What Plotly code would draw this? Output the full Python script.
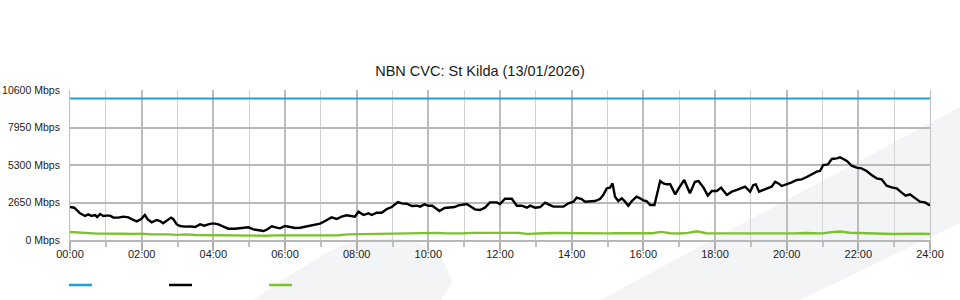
import plotly.graph_objects as go

title_text = "NBN CVC: St Kilda (13/01/2026)"

# x axis (hours) and tick labels
x_tick_vals = [0, 2, 4, 6, 8, 10, 12, 14, 16, 18, 20, 22, 24]
x_tick_text = ["00:00", "02:00", "04:00", "06:00", "08:00", "10:00", "12:00",
               "14:00", "16:00", "18:00", "20:00", "22:00", "24:00"]
y_tick_vals = [0, 2650, 5300, 7950, 10600]
y_tick_text = ["0 Mbps", "2650 Mbps", "5300 Mbps", "7950 Mbps", "10600 Mbps"]

# capacity (blue)
cap_t = [0, 24]
cap_v = [10000, 10000]

# traffic (black)
use_t = [0.00, 0.12, 0.28, 0.42, 0.51, 0.60, 0.70, 0.76, 0.84, 0.93, 1.02, 1.12, 1.21, 1.35, 1.49,
         1.63, 1.77, 1.86, 1.98, 2.09, 2.17, 2.28, 2.42, 2.51, 2.60, 2.70, 2.82, 2.88, 2.98, 3.07,
         3.21, 3.35, 3.49, 3.63, 3.75, 3.86, 3.95, 4.05, 4.14, 4.28, 4.42, 4.60, 4.79, 4.98, 5.12,
         5.26, 5.40, 5.49, 5.63, 5.77, 5.86, 6.00, 6.14, 6.28, 6.42, 6.56, 6.70, 6.84, 6.98, 7.12,
         7.30, 7.44, 7.58, 7.72, 7.86, 7.95, 8.05, 8.19, 8.33, 8.42, 8.56, 8.70, 8.84, 8.98, 9.15,
         9.26, 9.40, 9.54, 9.68, 9.77, 9.89, 10.00, 10.11, 10.19, 10.31, 10.45, 10.59, 10.73, 10.84, 10.98,
         11.07, 11.16, 11.30, 11.44, 11.58, 11.72, 11.91, 12.00, 12.14, 12.33, 12.47, 12.61, 12.75, 12.84, 12.98,
         13.12, 13.26, 13.35, 13.49, 13.63, 13.77, 13.91, 14.05, 14.14, 14.28, 14.37, 14.51, 14.65, 14.79, 14.88,
         14.98, 15.07, 15.14, 15.21, 15.30, 15.40, 15.49, 15.58, 15.68, 15.81, 15.91, 16.00, 16.09, 16.19, 16.31,
         16.47, 16.56, 16.65, 16.75, 16.89, 17.00, 17.14, 17.30, 17.44, 17.54, 17.68, 17.80, 17.91, 18.05, 18.17,
         18.33, 18.47, 18.61, 18.75, 18.84, 18.98, 19.07, 19.14, 19.23, 19.35, 19.49, 19.58, 19.68, 19.77, 19.86,
         20.00, 20.14, 20.28, 20.42, 20.56, 20.70, 20.84, 20.93, 21.02, 21.15, 21.26, 21.40, 21.49, 21.58, 21.68,
         21.81, 21.95, 22.09, 22.23, 22.37, 22.51, 22.65, 22.79, 22.93, 23.07, 23.21, 23.32, 23.44, 23.58, 23.72,
         23.86, 24.00]
use_v = [2330, 2280, 1885, 1700, 1815, 1700, 1765, 1625, 1835, 1700, 1720, 1720, 1580, 1580, 1650,
         1600, 1415, 1320, 1460, 1765, 1460, 1250, 1415, 1345, 1180, 1345, 1580, 1485, 1105, 990,
         945, 965, 920, 1105, 1015, 1105, 1155, 1155, 1105, 945, 800, 800, 870, 895, 755,
         705, 635, 730, 965, 870, 825, 990, 895, 850, 870, 945, 1035, 1060, 1155, 1345,
         1600, 1485, 1650, 1745, 1700, 1650, 2000, 1765, 1885, 1765, 1930, 1930, 2190, 2330, 2685,
         2590, 2565, 2400, 2425, 2355, 2520, 2425, 2425, 2285, 2050, 2260, 2285, 2330, 2450, 2520,
         2545, 2400, 2165, 2120, 2285, 2660, 2660, 2545, 2920, 2920, 2425, 2425, 2285, 2425, 2285,
         2330, 2640, 2520, 2355, 2355, 2355, 2590, 2710, 2990, 2895, 2710, 2710, 2755, 2895, 3180,
         3650, 3700, 4000, 3060, 2755, 2945, 2710, 2425, 2755, 3060, 2945, 2800, 2755, 2475, 2475,
         4170, 4000, 3935, 3935, 3225, 3700, 4240, 3300, 4120, 4170, 3700, 3135, 3465, 3465, 3700,
         3180, 3415, 3535, 3700, 3770, 3415, 3885, 3935, 3415, 3535, 3650, 3770, 4120, 4000, 3815,
         3935, 4075, 4240, 4285, 4450, 4640, 4830, 4875, 5300, 5345, 5725, 5770, 5840, 5725, 5585,
         5255, 5110, 5065, 4875, 4595, 4360, 4285, 3840, 3720, 3650, 3345, 3135, 3225, 2945, 2710,
         2660, 2440]

# upstream (green), 15-minute steps
up_t = [i * 0.25 for i in range(97)]
up_v = [565, 510, 470, 450, 450, 470, 440, 420, 450, 400, 420, 400, 360, 400, 350, 340,
        340, 340, 330, 340, 300, 330, 300, 330, 330, 330, 320, 330, 290, 330, 340, 400,
        410, 430, 440, 450, 470, 480, 500, 500, 490, 500, 470, 500, 480, 500, 500, 500,
        500, 490, 500, 430, 470, 480, 490, 480, 480, 470, 480, 480, 470, 480, 470, 500,
        470, 480, 570, 480, 460, 500, 620, 480, 470, 470, 480, 480, 430, 470, 480, 450,
        440, 470, 490, 480, 470, 560, 600, 510, 480, 470, 450, 440, 420, 440, 430, 450,
        420]

BLUE = "#1e9fdc"
BLACK = "#000000"
GREEN = "#7dc130"
WM = "#f3f4f6"

# plot area geometry in page pixels (for decorative shapes)
L, R, T, B = 70, 30, 90, 60
W, H = 960, 300
PW, PH = W - L - R, H - T - B


def px(x, y):
    return ((x - L) / PW, (H - B - y) / PH)


def path(points):
    s = ""
    for i, (x, y) in enumerate(points):
        a, b = px(x, y)
        s += ("M" if i == 0 else "L") + f"{a:.4f},{b:.4f} "
    return s + "Z"


band = [(600, 300), (960, 107), (1000, 86), (1000, 204), (960, 223), (800, 300)]
blob = [(253, 300), (275, 285), (300, 269), (325, 254), (343, 245), (365, 239), (393, 238),
        (420, 243), (438, 252), (447, 268), (452, 283), (441, 300)]

shapes = [
    dict(type="path", path=path(band), xref="paper", yref="paper", fillcolor=WM,
         line=dict(width=0), layer="below"),
    dict(type="path", path=path(blob), xref="paper", yref="paper", fillcolor=WM,
         line=dict(width=0), layer="below"),
]
# legend swatches (no text in the reference)
for (x0, col) in [(69, BLUE), (169, BLACK), (269, GREEN)]:
    a0, b0 = px(x0, 285)
    a1, _ = px(x0 + 23, 285)
    shapes.append(dict(type="line", xref="paper", yref="paper", x0=a0, x1=a1, y0=b0, y1=b0,
                       line=dict(color=col, width=2.5), layer="above"))

fig = go.Figure()
fig.add_trace(go.Scatter(x=cap_t, y=cap_v, mode="lines", line=dict(color=BLUE, width=2.2),
                         showlegend=False, hoverinfo="skip"))
fig.add_trace(go.Scatter(x=use_t, y=use_v, mode="lines", line=dict(color=BLACK, width=2.4),
                         showlegend=False))
fig.add_trace(go.Scatter(x=up_t, y=up_v, mode="lines", line=dict(color=GREEN, width=2.4),
                         showlegend=False))

fig.update_layout(
    width=W, height=H,
    margin=dict(l=L, r=R, t=T, b=B, pad=0),
    paper_bgcolor="white",
    plot_bgcolor="rgba(0,0,0,0)",
    font=dict(family="Liberation Sans, Arial, sans-serif", size=11, color="#222222"),
    title=dict(text=title_text, x=0.5, xref="container", xanchor="center",
               y=1 - 71 / 300, yref="container", yanchor="middle",
               font=dict(size=14.5, color="#1a1a1a")),
    shapes=shapes,
    showlegend=False,
)
fig.update_xaxes(
    range=[0, 24], tickvals=x_tick_vals, ticktext=x_tick_text,
    showgrid=True, gridcolor="#bdbdbd", gridwidth=1.5,
    ticks="outside", ticklen=9, tickcolor="#b0b0b0", tickwidth=1.5,
    ticklabelstandoff=-6, automargin=False,
    minor=dict(dtick=1, tick0=0, showgrid=True, gridcolor="#d2d2d2", gridwidth=1,
               ticks="outside", ticklen=5, tickcolor="#c0c0c0"),
    showline=True, linecolor="#b8b8b8", linewidth=1.5, mirror=False,
    zeroline=False, fixedrange=True,
)
fig.update_yaxes(
    range=[0, 10600], tickvals=y_tick_vals, ticktext=y_tick_text,
    tickfont=dict(size=10.5),
    showgrid=True, gridcolor="#b8b8b8", gridwidth=2,
    ticks="outside", ticklen=7, tickcolor="rgba(0,0,0,0)",
    automargin=False,
    showline=True, linecolor="#c0c0c0", linewidth=1, mirror=True,
    zeroline=False, fixedrange=True,
)

fig.write_html("out.html")
